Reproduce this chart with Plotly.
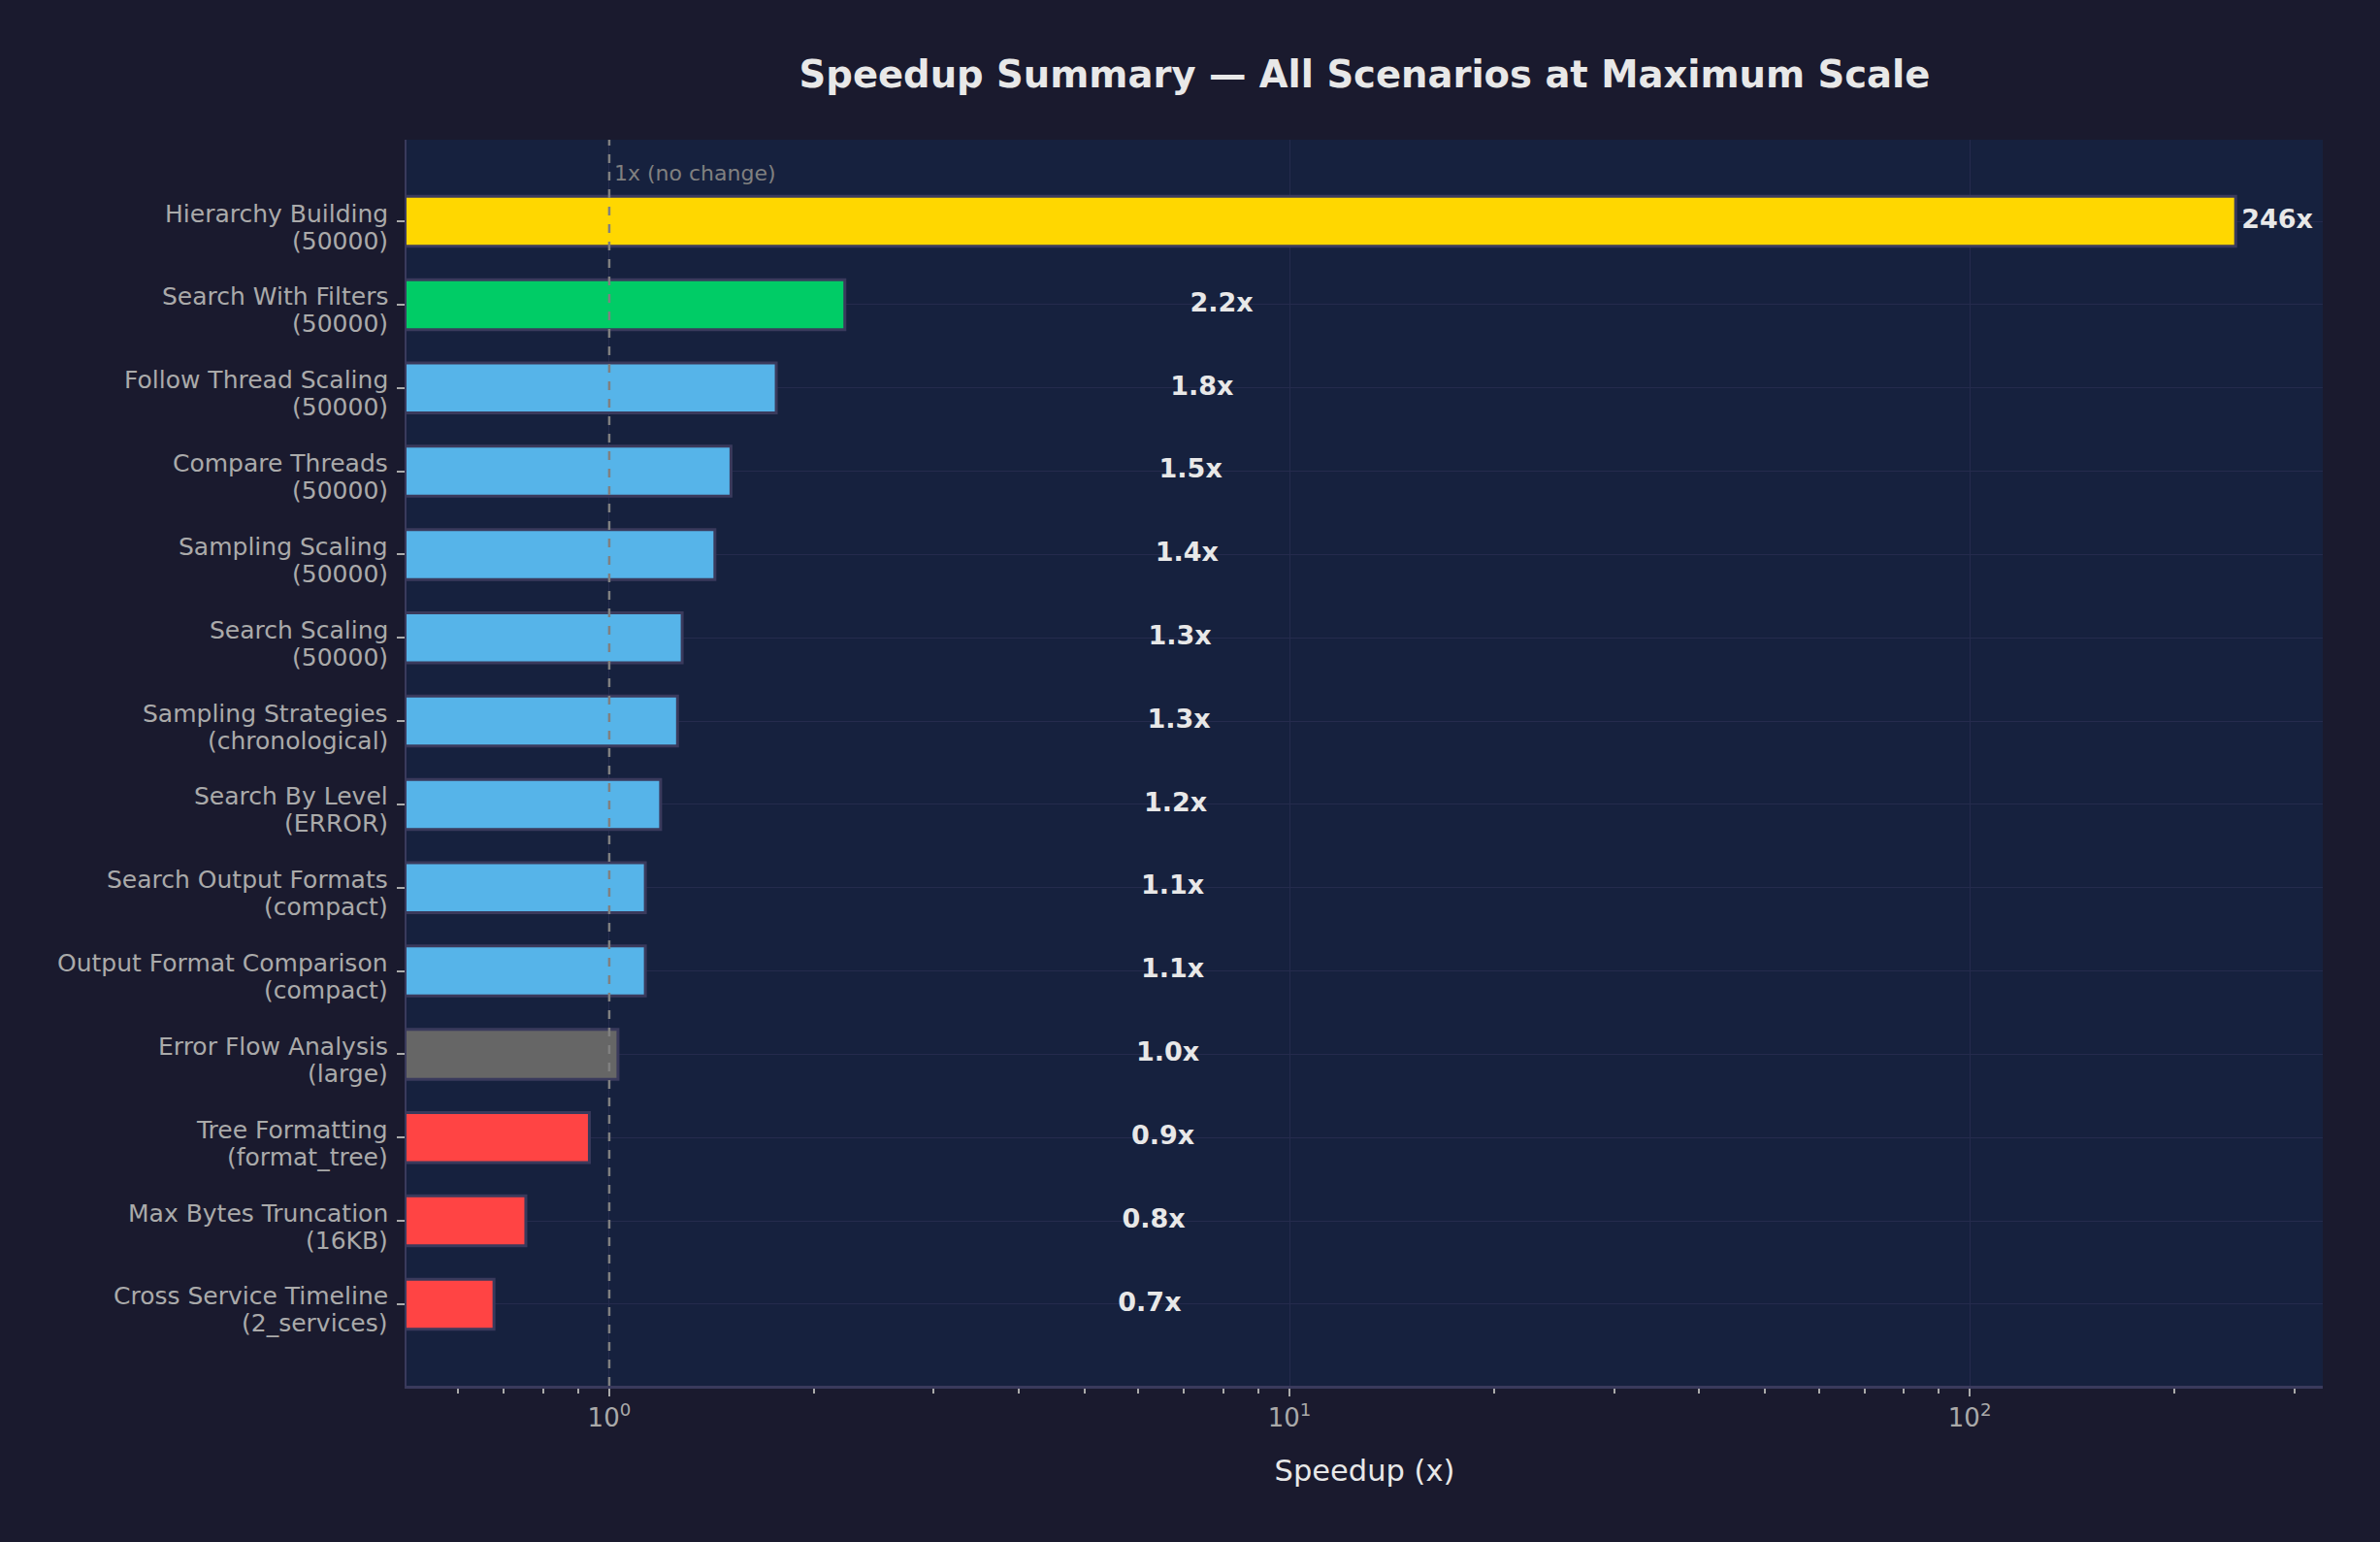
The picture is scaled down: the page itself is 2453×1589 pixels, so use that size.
import plotly.graph_objects as go

scenario_names = [
    "Hierarchy Building", "Search With Filters", "Follow Thread Scaling", "Compare Threads",
    "Sampling Scaling", "Search Scaling", "Sampling Strategies", "Search By Level",
    "Search Output Formats", "Output Format Comparison", "Error Flow Analysis",
    "Tree Formatting", "Max Bytes Truncation", "Cross Service Timeline",
]
scenario_params = [
    "(50000)", "(50000)", "(50000)", "(50000)", "(50000)", "(50000)", "(chronological)",
    "(ERROR)", "(compact)", "(compact)", "(large)", "(format_tree)", "(16KB)", "(2_services)",
]
speedups = [246.0, 2.22, 1.76, 1.51, 1.43, 1.28, 1.26, 1.19, 1.13, 1.13, 1.03, 0.935, 0.754, 0.677]
bar_colors = ["#FFD700", "#00CC66", "#56B4E9", "#56B4E9", "#56B4E9", "#56B4E9", "#56B4E9",
              "#56B4E9", "#56B4E9", "#56B4E9", "#666666", "#FF4444", "#FF4444", "#FF4444"]
x_tick_vals = [1, 10, 100]
x_tick_text = ["10<sup>0</sup>", "10<sup>1</sup>", "10<sup>2</sup>"]

categories = [f"{n} {p}" for n, p in zip(scenario_names, scenario_params)]
labels = [f"{v:.0f}x" if v >= 10 else f"{v:.1f}x" for v in speedups]
offset = max(speedups) * 0.02
label_x = [v + offset for v in speedups]

W, H = 2453, 1589
fig = go.Figure()
fig.add_trace(go.Bar(
    y=categories, x=speedups, orientation="h", width=0.6,
    marker=dict(color=bar_colors, line=dict(color="#3a3a5c", width=3)),
    hoverinfo="x+y", showlegend=False,
))
fig.add_trace(go.Scatter(
    y=categories, x=label_x, mode="text", text=labels,
    textposition="middle right",
    textfont=dict(family="DejaVu Sans", size=27, color="#e8e8e8", weight="bold"),
    showlegend=False, hoverinfo="skip",
))

# two-line category labels, drawn as text next to the y ticks
tick_font = dict(family="DejaVu Sans", size=25, color="#aaaaaa")
for cat, name, param in zip(categories, scenario_names, scenario_params):
    fig.add_annotation(x=0, xref="paper", y=cat, yref="y", xanchor="right", yanchor="middle",
                       xshift=-17, yshift=8, text=name, showarrow=False, font=tick_font)
    fig.add_annotation(x=0, xref="paper", y=cat, yref="y", xanchor="right", yanchor="middle",
                       xshift=-17, yshift=-20, text=param, showarrow=False, font=tick_font)

fig.add_shape(type="line", x0=1, x1=1, xref="x", y0=0, y1=1, yref="paper",
              line=dict(color="#808080", width=2.5, dash="dash"), layer="above")
fig.add_annotation(x=0, xref="x", xshift=3, y=0.9735, yref="paper",
                   text="1x (no change)", showarrow=False, xanchor="left", yanchor="middle",
                   font=dict(family="DejaVu Sans", size=22, color="#808080"))

fig.update_layout(
    width=W, height=H,
    paper_bgcolor="#1a1a2e", plot_bgcolor="#16213e",
    margin=dict(l=419, r=59, t=144, b=161),
    font=dict(family="DejaVu Sans", color="#aaaaaa"),
    title=dict(text="<b>Speedup Summary — All Scenarios at Maximum Scale</b>",
               x=(419 + W - 59) / 2 / W, xanchor="center", y=1 - 77 / H, yanchor="middle",
               font=dict(family="DejaVu Sans", size=38.5, color="#e8e8e8")),
)
fig.update_xaxes(
    type="log", range=[-0.298, 2.519],
    tickvals=x_tick_vals, ticktext=x_tick_text,
    ticks="outside", ticklen=8, tickwidth=2, tickcolor="#aaaaaa",
    tickfont=dict(size=26, color="#aaaaaa"),
    showgrid=True, gridcolor="#252b4d", gridwidth=1,
    showline=True, linecolor="#3a3a5c", linewidth=3,
    zeroline=False,
    minor=dict(ticks="outside", ticklen=5, tickwidth=1.5, tickcolor="#aaaaaa",
               dtick="D1", showgrid=False),
    title=dict(text="Speedup (x)", font=dict(size=30.5, color="#e8e8e8"), standoff=30),
)
fig.update_yaxes(
    type="category", range=[13.98, -0.98],
    ticks="outside", ticklen=8, tickwidth=2, tickcolor="#aaaaaa",
    showticklabels=False,
    showgrid=True, gridcolor="#252b4d", gridwidth=1,
    showline=True, linecolor="#3a3a5c", linewidth=2,
    zeroline=False,
)

fig.write_html(
    "out.html",
    config={"displayModeBar": False},
    post_script="document.body.style.margin='0';document.body.style.background='#1a1a2e';"
                "document.body.style.overflow='hidden';",
)
